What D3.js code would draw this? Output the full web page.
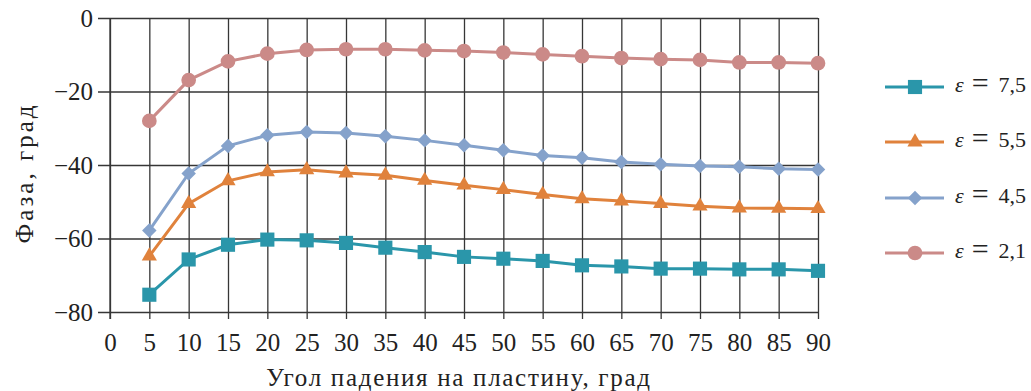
<!DOCTYPE html>
<html>
<head>
<meta charset="utf-8">
<script src="https://cdn.jsdelivr.net/npm/d3@7"></script>
</head>
<body style="margin:0;background:#fff">
<svg id="chart" width="1031" height="391" font-family="Liberation Serif" style="display:block"></svg>
<script>
// Angle of incidence, degrees
const angles = [5, 10, 15, 20, 25, 30, 35, 40, 45, 50, 55, 60, 65, 70, 75, 80, 85, 90];

// Phase, degrees, for each permittivity
const phaseEps75 = [-75.3, -65.7, -61.7, -60.3, -60.5, -61.2, -62.5, -63.7, -65.0, -65.5, -66.1, -67.3, -67.6, -68.2, -68.2, -68.4, -68.4, -68.8];
const phaseEps55 = [-64.8, -50.5, -44.3, -41.9, -41.3, -42.2, -42.8, -44.2, -45.5, -46.7, -48.0, -49.2, -49.8, -50.5, -51.2, -51.7, -51.8, -51.9];
const phaseEps45 = [-57.8, -42.3, -34.8, -31.9, -31.0, -31.3, -32.2, -33.3, -34.6, -36.0, -37.4, -38.0, -39.2, -39.8, -40.3, -40.5, -41.0, -41.2];
const phaseEps21 = [-28.0, -16.9, -11.8, -9.7, -8.7, -8.5, -8.5, -8.8, -9.0, -9.4, -9.9, -10.4, -10.9, -11.2, -11.4, -12.1, -12.1, -12.3];

const seriesNames = ["7,5", "5,5", "4,5", "2,1"];
const xTicks = [0, 5, 10, 15, 20, 25, 30, 35, 40, 45, 50, 55, 60, 65, 70, 75, 80, 85, 90];
const yTicks = [0, -20, -40, -60, -80];

const FONT = "Liberation Serif";
const fontSize = 25;
const textColor = "#222";
const gridColor = "#363636";

const series = [
  { name: seriesNames[0], values: phaseEps75, color: "#2a96aa", symbol: d3.symbolSquare, size: 200, rotate: 0 },
  { name: seriesNames[1], values: phaseEps55, color: "#e0823c", symbol: d3.symbolTriangle, size: 100, rotate: 0 },
  { name: seriesNames[2], values: phaseEps45, color: "#85a2cb", symbol: d3.symbolSquare, size: 105, rotate: 45 },
  { name: seriesNames[3], values: phaseEps21, color: "#cb8a88", symbol: d3.symbolCircle, size: 170, rotate: 0 }
];

const svg = d3.select("#chart");
const margin = { left: 110, top: 18, right: 213, bottom: 79 };
const W = 1031, H = 391;

const x = d3.scaleLinear().domain([0, 90]).range([margin.left, W - margin.right]);
const y = d3.scaleLinear().domain([-80, 0]).range([H - margin.bottom, margin.top]);

function styleText(sel, size) {
  sel.attr("font-family", FONT).attr("font-size", size || fontSize).attr("fill", textColor);
}

// Vertical grid lines with small ticks below the frame
const gx = svg.append("g")
  .attr("transform", `translate(0,${y(-80)})`)
  .call(d3.axisBottom(x).tickValues(xTicks).tickSize(7).tickSizeOuter(0).tickPadding(14)
    .tickFormat(d3.format("d")));
gx.attr("font-family", FONT).attr("font-size", fontSize);
gx.select(".domain").remove();
gx.selectAll(".tick line").attr("stroke", gridColor).attr("stroke-width", 1.3)
  .attr("y1", -(y(-80) - y(0))).attr("y2", 7);
gx.selectAll(".tick text").call(styleText);

// Horizontal grid lines with small ticks left of the frame
const gy = svg.append("g")
  .attr("transform", `translate(${x(0)},0)`)
  .call(d3.axisLeft(y).tickValues(yTicks).tickSize(12).tickSizeOuter(0).tickPadding(5)
    .tickFormat(d => d === 0 ? "0" : "\u2212" + Math.abs(d)));
gy.attr("font-family", FONT).attr("font-size", fontSize);
gy.select(".domain").remove();
gy.selectAll(".tick line").attr("stroke", gridColor).attr("stroke-width", 1.3)
  .attr("x1", -12).attr("x2", x(90) - x(0));
gy.selectAll(".tick text").call(styleText);

// Left frame line
svg.append("line")
  .attr("x1", x(0)).attr("x2", x(0)).attr("y1", y(0)).attr("y2", y(-80) + 7)
  .attr("stroke", gridColor).attr("stroke-width", 1.3);

// Series lines and markers
const line = d3.line().x((d, i) => x(angles[i])).y(d => y(d));
series.forEach(s => {
  svg.append("path")
    .datum(s.values)
    .attr("d", line)
    .attr("fill", "none")
    .attr("stroke", s.color)
    .attr("stroke-width", 3);
  const sym = d3.symbol().type(s.symbol).size(s.size);
  svg.append("g").selectAll("path")
    .data(s.values)
    .join("path")
    .attr("d", sym)
    .attr("transform", (d, i) => `translate(${x(angles[i])},${y(d)}) rotate(${s.rotate})`)
    .attr("fill", s.color);
});

// Axis titles
svg.append("text")
  .attr("x", 459).attr("y", 386)
  .attr("text-anchor", "middle")
  .attr("letter-spacing", 1.7)
  .call(styleText)
  .text("Угол падения на пластину, град");

svg.append("text")
  .attr("transform", `translate(33,${(y(0) + y(-80)) / 2 + 8}) rotate(-90)`)
  .attr("text-anchor", "middle")
  .attr("letter-spacing", 3)
  .call(styleText)
  .text("Фаза, град");

// Legend
const legendY = [87, 142, 198, 253];
series.forEach((s, i) => {
  const g = svg.append("g").attr("transform", `translate(0,${legendY[i]})`);
  g.append("line").attr("x1", 885).attr("x2", 944).attr("y1", 0).attr("y2", 0)
    .attr("stroke", s.color).attr("stroke-width", 3);
  g.append("path").attr("d", d3.symbol().type(s.symbol).size(s.size)())
    .attr("transform", `translate(915,0) rotate(${s.rotate})`).attr("fill", s.color);
  const t = g.append("text").attr("x", 955).attr("y", 5).call(styleText, 22);
  t.append("tspan").attr("font-style", "italic").text("\u03b5");
  t.append("tspan").attr("dx", 8).attr("font-size", 30).attr("dy", 1).text("=");
  t.append("tspan").attr("dx", 10).attr("dy", -1).text(s.name);
});
</script>
</body>
</html>
